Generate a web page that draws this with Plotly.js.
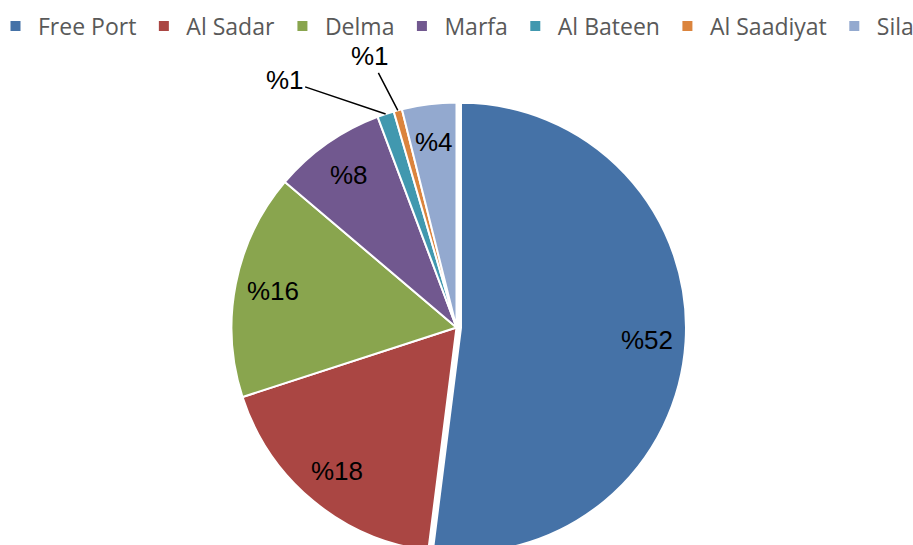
<!DOCTYPE html>
<html>
<head>
<meta charset="utf-8">
<script src="https://cdn.plot.ly/plotly-3.0.1.min.js"></script>
<style>
html,body{margin:0;padding:0;overflow:hidden;background:#fff;}
#chart{width:1000px;height:700px;margin-left:-87px;}
</style>
</head>
<body>
<div id="chart"></div>
<script>
// Data
const categories = ["Free Port", "Al Sadar", "Delma", "Marfa", "Al Bateen", "Al Saadiyat", "Sila"];
const values = [52, 18, 16.2, 8.1, 1.2, 0.6, 3.9];
const labelsText = ["%52", "%18", "%16", "%8", "%1", "%1", "%4"];
const colors = ["#4572A7", "#AA4643", "#89A54E", "#71588F", "#4198AF", "#DB843D", "#93A9CF"];
const pulls = [0.02, 0, 0, 0, 0, 0, 0];
const outsideIdx = [4, 5]; // slices with outside labels

// Layout geometry (figure larger than the 913x545 window; the excess is clipped)
const W = 1000, H = 700;
const M = {l: 87, r: 0, t: 98, b: 143};
const plotW = W - M.l - M.r, plotH = H - M.t - M.b;
const maxPull = Math.max(...pulls);
const R = Math.min(plotW, plotH) / (2 * (1 + maxPull));

const total = values.reduce((a, b) => a + b, 0);
let cum = 0;
const annotations = [];
const outOffsets = {4: [-101, -34], 5: [-28, -54]};
values.forEach((v, i) => {
  const mid = (cum + v / 2) / total * 2 * Math.PI;
  cum += v;
  const s = Math.sin(mid), c = Math.cos(mid);
  const shift = pulls[i] * R;
  if (outsideIdx.includes(i)) {
    const dx = (R + shift) * s, dy = -(R + shift) * c;
    annotations.push({
      x: 0.5 + dx / plotW, y: 0.5 - dy / plotH, xref: 'paper', yref: 'paper',
      text: labelsText[i], showarrow: true, arrowhead: 0, arrowwidth: 1.5, arrowcolor: '#000',
      ax: outOffsets[i][0], ay: outOffsets[i][1], standoff: 0,
      font: {family: 'Liberation Sans, Arial, sans-serif', size: 26, color: '#000'}
    });
  } else {
    const rr = 0.83 * R + shift;
    const dx = rr * s, dy = -rr * c;
    annotations.push({
      x: 0.5 + dx / plotW, y: 0.5 - dy / plotH, xref: 'paper', yref: 'paper',
      text: labelsText[i], showarrow: false, xanchor: 'center', yanchor: 'middle',
      font: {family: 'Liberation Sans, Arial, sans-serif', size: 26, color: '#000'}
    });
  }
});

const trace = {
  type: 'pie',
  labels: categories,
  values: values,
  sort: false,
  direction: 'clockwise',
  rotation: 0,
  pull: pulls,
  textinfo: 'none',
  hoverinfo: 'skip',
  marker: {colors: colors, line: {color: '#ffffff', width: 2}},
  domain: {x: [0, 1], y: [0, 1]}
};

const layout = {
  width: W, height: H,
  margin: {l: M.l, r: M.r, t: M.t, b: M.b, autoexpand: false},
  paper_bgcolor: '#ffffff',
  showlegend: true,
  legend: {
    orientation: 'h', x: -7 / plotW, xanchor: 'left', y: 1 + (M.t - 26) / plotH, yanchor: 'middle',
    font: {family: 'Open Sans, sans-serif', size: 23, color: '#595959'},
    itemwidth: 35,
    traceorder: 'normal'
  },
  annotations: annotations
};

Plotly.newPlot('chart', [trace], layout, {displayModeBar: false, staticPlot: true});
</script>
</body>
</html>
